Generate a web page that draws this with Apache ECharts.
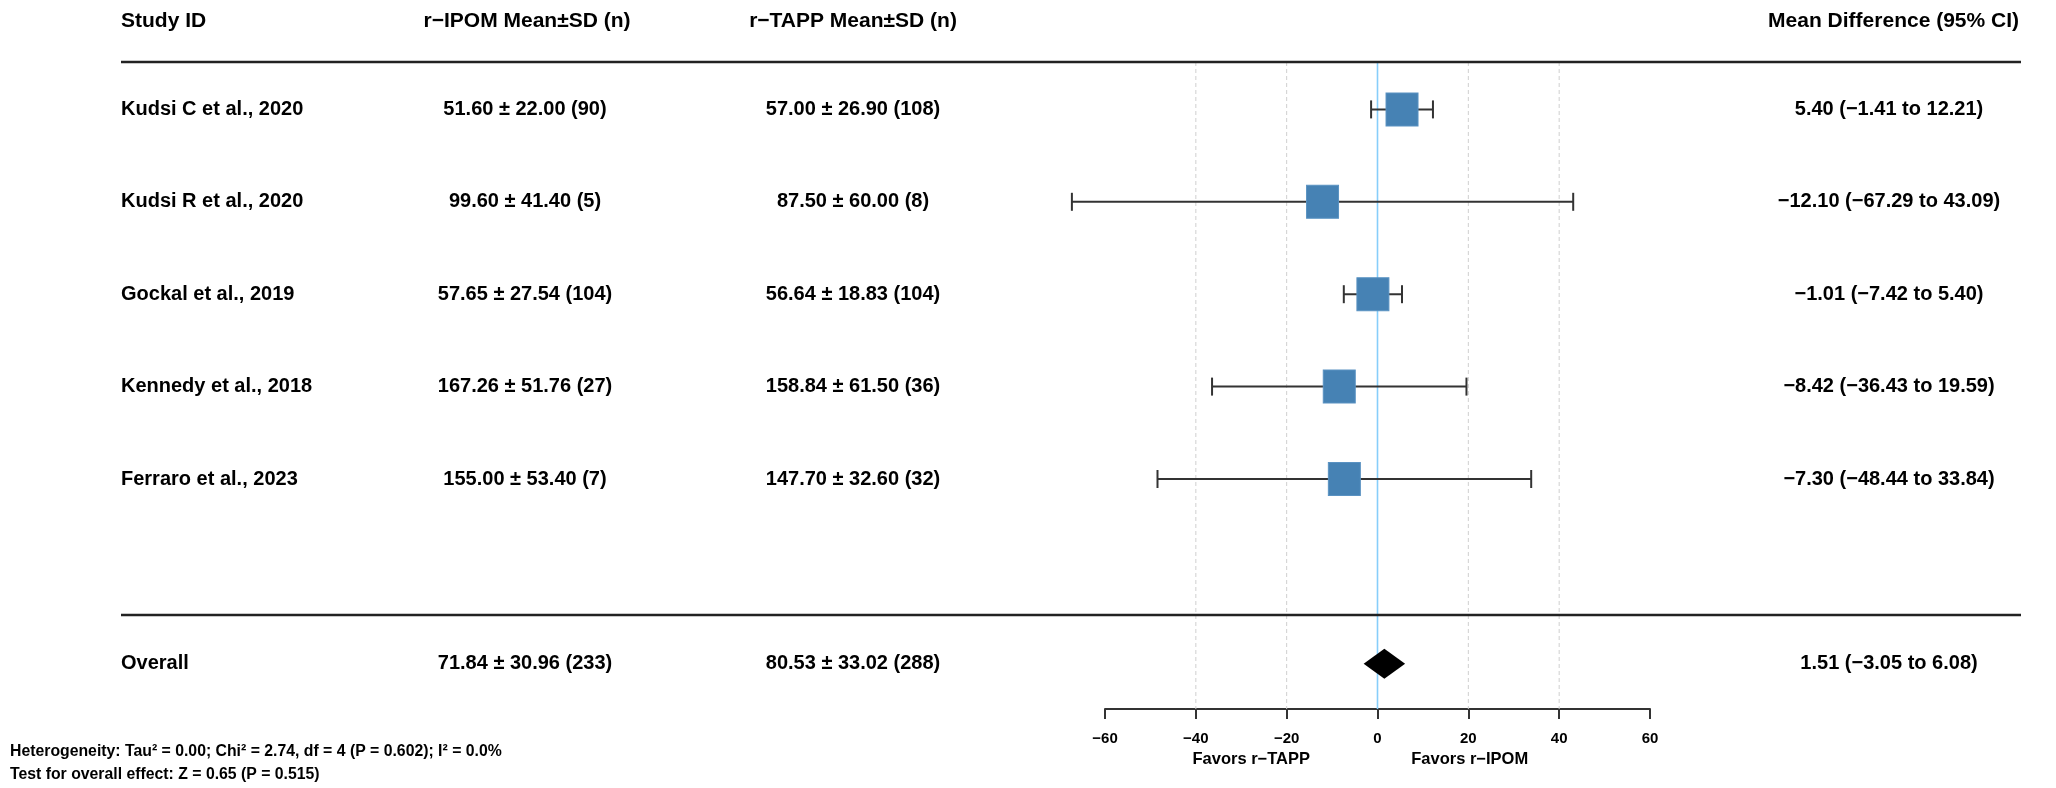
<!DOCTYPE html>
<html><head><meta charset="utf-8">
<script src="https://cdn.jsdelivr.net/npm/echarts@6/dist/echarts.min.js"></script>
<style>html,body{margin:0;padding:0;background:#fff}#c{width:2056px;height:788px}</style>
</head><body><div id="c"></div>
<script>
// ---- data ----
const studies = ['Kudsi C et al., 2020','Kudsi R et al., 2020','Gockal et al., 2019','Kennedy et al., 2018','Ferraro et al., 2023'];
const ipomMean = [51.60, 99.60, 57.65, 167.26, 155.00];
const ipomSD   = [22.00, 41.40, 27.54, 51.76, 53.40];
const ipomN    = [90, 5, 104, 27, 7];
const tappMean = [57.00, 87.50, 56.64, 158.84, 147.70];
const tappSD   = [26.90, 60.00, 18.83, 61.50, 32.60];
const tappN    = [108, 8, 104, 36, 32];
const md     = [5.40, -12.10, -1.01, -8.42, -7.30];
const ciLow  = [-1.41, -67.29, -7.42, -36.43, -48.44];
const ciHigh = [12.21, 43.09, 5.40, 19.59, 33.84];
const overallLabel = 'Overall';
const overallIpom = [71.84, 30.96, 233];
const overallTapp = [80.53, 33.02, 288];
const overallMd = [1.51, -3.05, 6.08];
const xTicks = [-60, -40, -20, 0, 20, 40, 60];
const gridTicks = [-40, -20, 20, 40];
const headers = ['Study ID', 'r\u2212IPOM Mean\u00b1SD (n)', 'r\u2212TAPP Mean\u00b1SD (n)', 'Mean Difference (95% CI)'];
const favorLabels = ['Favors r\u2212TAPP', 'Favors r\u2212IPOM'];
const favorPos = [-27.8, 20.3];
const footer = ['Heterogeneity: Tau\u00b2 = 0.00; Chi\u00b2 = 2.74, df = 4 (P = 0.602); I\u00b2 = 0.0%', 'Test for overall effect: Z = 0.65 (P = 0.515)'];

// ---- helpers ----
const fmt = v => v.toFixed(2).replace('-', '\u2212');
const msd = (m, s, n) => fmt(m) + ' \u00b1 ' + fmt(s) + ' (' + n + ')';
const ci = (m, l, h) => fmt(m) + ' (' + fmt(l) + ' to ' + fmt(h) + ')';
const overallRow = studies.length + 1;

const textRows = studies.map((s, i) => [s, msd(ipomMean[i], ipomSD[i], ipomN[i]), msd(tappMean[i], tappSD[i], tappN[i]), ci(md[i], ciLow[i], ciHigh[i]), i]);
textRows.push([overallLabel, msd(...overallIpom), msd(...overallTapp), ci(...overallMd), overallRow]);

// ---- layout constants ----
const FONT = '"Liberation Sans", Arial, Helvetica, sans-serif';
const PL = 1105, PW = 545;
const LINE_L = 121, LINE_R = 2021, LINE_TOP = 62, LINE_MID = 615, AXIS_Y = 709;
const COLX = [121, 525, 853, 1889];
const COLALIGN = ['left', 'center', 'center', 'center'];
const HEAD_Y = 21;

const chart = echarts.init(document.getElementById('c'), null, {renderer: 'canvas'});

const option = {
  animation: false,
  backgroundColor: '#fff',
  grid: [
    {left: PL, width: PW, top: 17, height: 739.2},
    {left: PL, width: PW, top: AXIS_Y - 9, height: 9}
  ],
  xAxis: [
    {gridIndex: 0, type: 'value', min: -60, max: 60, interval: 20, show: false},
    {gridIndex: 1, type: 'value', min: -60, max: 60, interval: 20, position: 'bottom',
      axisLine: {show: true, onZero: false, lineStyle: {color: '#333', width: 2}},
      axisTick: {show: true, length: 10, lineStyle: {color: '#333', width: 2}},
      splitLine: {show: false},
      axisLabel: {margin: 22, fontSize: 15, fontWeight: 'bold', color: '#000', fontFamily: FONT,
        formatter: v => String(v).replace('-', '\u2212')}}
  ],
  yAxis: [
    {gridIndex: 0, type: 'value', min: -1, max: 7, inverse: true, show: false},
    {gridIndex: 1, type: 'value', min: 0, max: 1, show: false}
  ],
  graphic: [
    {type: 'line', shape: {x1: LINE_L, y1: LINE_TOP, x2: LINE_R, y2: LINE_TOP}, style: {stroke: '#222', lineWidth: 2.5}, z: 10},
    {type: 'line', shape: {x1: LINE_L, y1: LINE_MID, x2: LINE_R, y2: LINE_MID}, style: {stroke: '#222', lineWidth: 2.5}, z: 10},
    {type: 'text', x: 121, y: HEAD_Y, style: {text: headers[0], font: 'bold 21px ' + FONT, fill: '#000', textAlign: 'left', textVerticalAlign: 'middle'}},
    {type: 'text', x: 527, y: HEAD_Y, style: {text: headers[1], font: 'bold 21px ' + FONT, fill: '#000', textAlign: 'center', textVerticalAlign: 'middle'}},
    {type: 'text', x: 853, y: HEAD_Y, style: {text: headers[2], font: 'bold 21px ' + FONT, fill: '#000', textAlign: 'center', textVerticalAlign: 'middle'}},
    {type: 'text', x: 2019, y: HEAD_Y, style: {text: headers[3], font: 'bold 21px ' + FONT, fill: '#000', textAlign: 'right', textVerticalAlign: 'middle'}},
    {type: 'text', x: 10, y: 752, style: {text: footer[0], font: 'bold 15.8px ' + FONT, fill: '#000', textAlign: 'left', textVerticalAlign: 'middle'}},
    {type: 'text', x: 10, y: 775, style: {text: footer[1], font: 'bold 15.8px ' + FONT, fill: '#000', textAlign: 'left', textVerticalAlign: 'middle'}}
  ],
  series: [
    // vertical dashed reference lines
    {type: 'custom', xAxisIndex: 0, yAxisIndex: 0, z: 1, silent: true,
      data: gridTicks.map(v => [v, 0]),
      renderItem: (p, api) => {
        const x = api.coord([api.value(0), 0])[0];
        return {type: 'line', shape: {x1: x, y1: LINE_TOP, x2: x, y2: AXIS_Y}, style: {stroke: '#cfcfcf', lineWidth: 1, lineDash: [4, 3]}};
      }},
    // zero line
    {type: 'custom', xAxisIndex: 0, yAxisIndex: 0, z: 2, silent: true,
      data: [[0, 0]],
      renderItem: (p, api) => {
        const x = api.coord([api.value(0), 0])[0];
        return {type: 'line', shape: {x1: x, y1: LINE_TOP, x2: x, y2: AXIS_Y}, style: {stroke: '#87CEFA', lineWidth: 1.6}};
      }},
    // confidence intervals
    {type: 'custom', xAxisIndex: 0, yAxisIndex: 0, z: 3, silent: true,
      data: ciLow.map((l, i) => [l, ciHigh[i], i]),
      renderItem: (p, api) => {
        const y = api.value(2);
        const a = api.coord([api.value(0), y]);
        const b = api.coord([api.value(1), y]);
        const h = 9, st = {stroke: '#333', lineWidth: 2};
        return {type: 'group', children: [
          {type: 'line', shape: {x1: a[0], y1: a[1], x2: b[0], y2: b[1]}, style: st},
          {type: 'line', shape: {x1: a[0], y1: a[1] - h, x2: a[0], y2: a[1] + h}, style: st},
          {type: 'line', shape: {x1: b[0], y1: b[1] - h, x2: b[0], y2: b[1] + h}, style: st}
        ]};
      }},
    // study boxes
    {type: 'scatter', xAxisIndex: 0, yAxisIndex: 0, z: 5, silent: true,
      symbol: 'rect', symbolSize: [32, 33],
      itemStyle: {color: '#4682B4', borderColor: '#5a92c2', borderWidth: 1, opacity: 1},
      data: md.map((v, i) => [v, i])},
    // overall diamond
    {type: 'custom', xAxisIndex: 0, yAxisIndex: 0, z: 5, silent: true,
      data: [[overallMd[0], overallMd[1], overallMd[2], overallRow]],
      renderItem: (p, api) => {
        const y = api.value(3);
        const c = api.coord([api.value(0), y]);
        const l = api.coord([api.value(1), y]);
        const r = api.coord([api.value(2), y]);
        const h = 15;
        return {type: 'polygon', shape: {points: [[l[0], c[1]], [c[0], c[1] - h], [r[0], c[1]], [c[0], c[1] + h]]}, style: {fill: '#000'}};
      }},
    // table text
    {type: 'custom', xAxisIndex: 0, yAxisIndex: 0, z: 6, silent: true,
      data: textRows.map(r => [0, r[4]]),
      renderItem: (p, api) => {
        const row = textRows[p.dataIndex];
        const y = api.coord([0, api.value(1)])[1];
        return {type: 'group', children: [0, 1, 2, 3].map(k => ({
          type: 'text', x: COLX[k], y: y,
          style: {text: row[k], font: 'bold 20px ' + FONT, fill: '#000', textAlign: COLALIGN[k], textVerticalAlign: 'middle'}
        }))};
      }},
    // favors labels
    {type: 'custom', xAxisIndex: 0, yAxisIndex: 0, z: 6, silent: true,
      data: favorPos.map(v => [v, 0]),
      renderItem: (p, api) => {
        const x = api.coord([api.value(0), 0])[0];
        return {type: 'text', x: x, y: 759, style: {text: favorLabels[p.dataIndex], font: 'bold 16.5px ' + FONT, fill: '#000', textAlign: 'center', textVerticalAlign: 'middle'}};
      }},
    // empty series to attach the axis grid
    {type: 'scatter', xAxisIndex: 1, yAxisIndex: 1, data: [], silent: true}
  ]
};
chart.setOption(option);
</script>
</body></html>
